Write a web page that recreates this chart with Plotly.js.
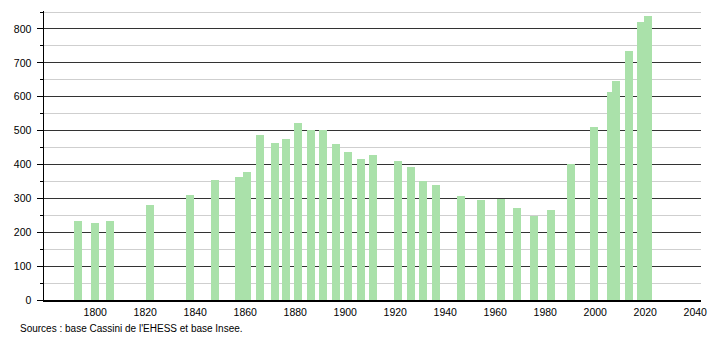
<!DOCTYPE html>
<html>
<head>
<meta charset="utf-8">
<script src="https://cdn.plot.ly/plotly-3.0.1.min.js"></script>
<style>html,body{margin:0;padding:0;background:#fff;}#chart{width:710px;height:340px;}</style>
</head>
<body>
<div id="chart"></div>
<script>
// Census years (as positioned in the reference) and population values
const years = [1793, 1800, 1806, 1822, 1838, 1848, 1857.5, 1860.7, 1865.7, 1871.9, 1876.3, 1881.1, 1886.1, 1891.1, 1896.3, 1901.1, 1906.3, 1911.1, 1921.1, 1926.3, 1931.1, 1936.3, 1946.3, 1954.3, 1962.3, 1968.6, 1975.5, 1982.3, 1990.3, 1999.5, 2006.3, 2008.3, 2013.5, 2018.3, 2021.1];
const population = [232, 227, 232, 280, 309, 355, 362, 379, 486, 463, 474, 521, 503, 503, 460, 436, 415, 427, 410, 392, 350, 340, 307, 295, 298, 273, 249, 265, 400, 512, 615, 645, 736, 822, 838];
const xTickVals = [1800, 1820, 1840, 1860, 1880, 1900, 1920, 1940, 1960, 1980, 2000, 2020, 2040];
const yTickVals = [0, 100, 200, 300, 400, 500, 600, 700, 800];
const sourceText = "Sources : base Cassini de l'EHESS et base Insee.";

const font = {family: "Liberation Sans, Arial, sans-serif", size: 10.5, color: "#000"};

Plotly.newPlot("chart", [{
  type: "bar",
  x: years,
  y: population,
  width: 3.2,
  marker: {color: "rgb(170,225,170)", line: {width: 0}},
  hoverinfo: "x+y"
}], {
  width: 710,
  height: 340,
  margin: {l: 44, r: 9, t: 11, b: 40, pad: 0},
  paper_bgcolor: "#fff",
  plot_bgcolor: "#fff",
  showlegend: false,
  bargap: 0,
  font: font,
  xaxis: {
    range: [1779.5, 2042.3],
    tickvals: xTickVals,
    ticks: "",
    showgrid: false,
    zeroline: false,
    showline: true,
    linecolor: "#000",
    linewidth: 1.5,
    tickfont: font,
    ticklabelstandoff: 2
  },
  yaxis: {
    range: [0, 853],
    tickvals: yTickVals,
    ticks: "outside",
    ticklen: 6,
    tickcolor: "#000",
    tickwidth: 1,
    showgrid: true,
    gridcolor: "#333",
    gridwidth: 1,
    zeroline: false,
    showline: true,
    linecolor: "#000",
    linewidth: 1.5,
    tickfont: font,
    ticklabelstandoff: 3,
    minor: {dtick: 50, tick0: 0, showgrid: true, gridcolor: "#cfcfcf", gridwidth: 1, ticks: "outside", ticklen: 3, tickcolor: "#000"}
  },
  annotations: [{
    text: sourceText,
    xref: "paper", yref: "paper",
    x: -26/657, y: -0.098,
    xanchor: "left", yanchor: "middle",
    showarrow: false,
    font: {family: "Liberation Sans, Arial, sans-serif", size: 10, color: "#000"}
  }]
}, {displayModeBar: false, staticPlot: true});
</script>
</body>
</html>
